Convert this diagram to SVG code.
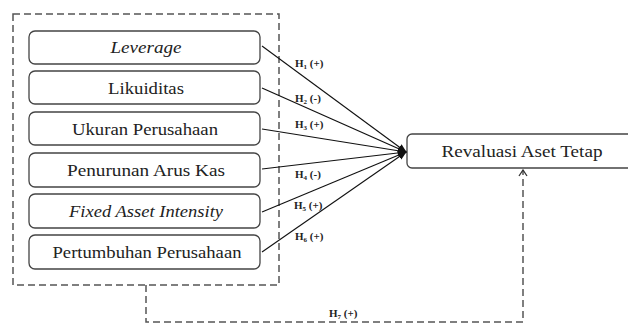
<svg xmlns="http://www.w3.org/2000/svg" width="628" height="325" viewBox="0 0 628 325">
<style>
.box{fill:#fff;stroke:#444;stroke-width:1.3}
.lbl{font-size:17px;fill:#222;text-anchor:middle}
.it{font-style:italic}
.h{font-size:11px;font-weight:bold;fill:#222}
.sub{font-size:7px}
.arr{stroke:#111;stroke-width:1.1;fill:none;marker-end:url(#ah)}
.dash{stroke:#555;stroke-width:1.5;fill:none;stroke-dasharray:7,4}
</style>
<defs>
<marker id="ah" viewBox="0 0 10 10" refX="9" refY="5" markerWidth="9" markerHeight="9" markerUnits="userSpaceOnUse" orient="auto">
<path d="M0,1 L10,5 L0,9 Z" fill="#111"/>
</marker>
<marker id="oa" viewBox="0 0 10 10" refX="5" refY="1" markerWidth="10" markerHeight="10" markerUnits="userSpaceOnUse" orient="0">
<path d="M1,7 L5,1 L9,7" fill="none" stroke="#333" stroke-width="1.3"/>
</marker>
</defs>
<rect x="0" y="0" width="628" height="325" fill="#fff"/>
<g id="group-box">
<rect class="dash" x="13" y="14" width="266" height="271"/>
</g>
<g font-family="Liberation Serif, Times New Roman, serif">
<g id="node-leverage">
<rect class="box" x="29" y="31" width="231" height="33" rx="6"/>
<text class="lbl it" x="146" y="53" textLength="71" lengthAdjust="spacingAndGlyphs">Leverage</text>
</g>
<g id="node-likuiditas">
<rect class="box" x="29" y="71" width="231" height="33" rx="6"/>
<text class="lbl" x="146" y="94" textLength="76" lengthAdjust="spacingAndGlyphs">Likuiditas</text>
</g>
<g id="node-ukuran">
<rect class="box" x="29" y="112" width="231" height="33" rx="6"/>
<text class="lbl" x="145" y="135" textLength="146" lengthAdjust="spacingAndGlyphs">Ukuran Perusahaan</text>
</g>
<g id="node-arus">
<rect class="box" x="29" y="153" width="231" height="34" rx="6"/>
<text class="lbl" x="146" y="176" textLength="158" lengthAdjust="spacingAndGlyphs">Penurunan Arus Kas</text>
</g>
<g id="node-fixed">
<rect class="box" x="29" y="194" width="231" height="34" rx="6"/>
<text class="lbl it" x="146" y="217" textLength="154" lengthAdjust="spacingAndGlyphs">Fixed Asset Intensity</text>
</g>
<g id="node-pertumbuhan">
<rect class="box" x="29" y="235" width="231" height="34" rx="6"/>
<text class="lbl" x="147" y="258" textLength="189" lengthAdjust="spacingAndGlyphs">Pertumbuhan Perusahaan</text>
</g>
<g id="node-revaluasi">
<rect class="box" x="407" y="134" width="232" height="34" rx="5"/>
<text class="lbl" x="522" y="157" textLength="161" lengthAdjust="spacingAndGlyphs">Revaluasi Aset Tetap</text>
</g>
<g id="connectors">
<line class="arr" x1="262" y1="46" x2="406" y2="152"/>
<line class="arr" x1="262" y1="88" x2="406" y2="152"/>
<line class="arr" x1="262" y1="129" x2="406" y2="152"/>
<line class="arr" x1="262" y1="169" x2="406" y2="152"/>
<line class="arr" x1="262" y1="212" x2="406" y2="152"/>
<line class="arr" x1="262" y1="252" x2="406" y2="152"/>
<path class="dash" d="M146,285 V322 H523 V170" marker-end="url(#oa)"/>
<text class="h" x="295" y="67">H<tspan class="sub" dy="2">1</tspan><tspan dy="-2"> (+)</tspan></text>
<text class="h" x="295" y="102">H<tspan class="sub" dy="2">2</tspan><tspan dy="-2"> (-)</tspan></text>
<text class="h" x="295" y="128">H<tspan class="sub" dy="2">3</tspan><tspan dy="-2"> (+)</tspan></text>
<text class="h" x="295" y="178">H<tspan class="sub" dy="2">4</tspan><tspan dy="-2"> (-)</tspan></text>
<text class="h" x="294" y="209">H<tspan class="sub" dy="2">5</tspan><tspan dy="-2"> (+)</tspan></text>
<text class="h" x="295" y="240">H<tspan class="sub" dy="2">6</tspan><tspan dy="-2"> (+)</tspan></text>
<text class="h" x="329" y="317">H<tspan class="sub" dy="2">7</tspan><tspan dy="-2"> (+)</tspan></text>
</g>
</g>
</svg>
